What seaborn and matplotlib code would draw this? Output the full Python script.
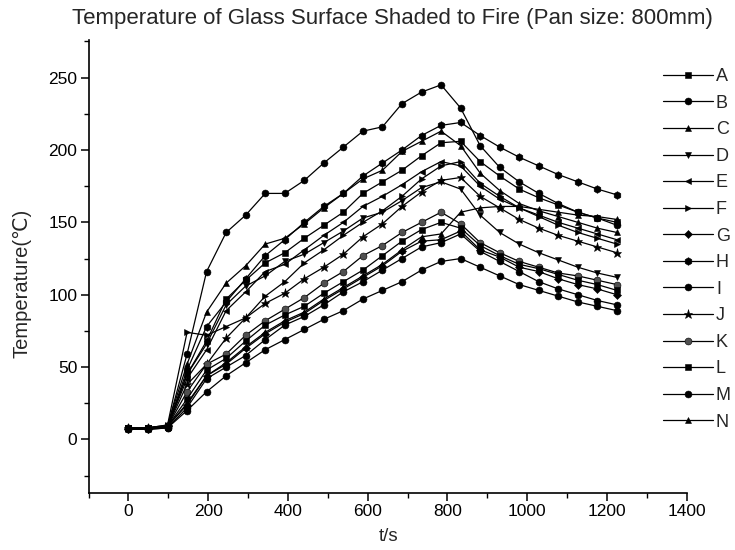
import matplotlib
matplotlib.use("Agg")
import matplotlib.pyplot as plt
from matplotlib.ticker import MultipleLocator
import pandas as pd
import seaborn as sns

# Sampling times (s)
times = [0, 49, 98, 147, 196, 245, 294, 343, 392, 441, 490, 539, 588,
         637, 686, 735, 784, 833, 882, 931, 980, 1029, 1078, 1127, 1176, 1225]

# Glass surface temperature (degC) at each measuring point
A = [8, 8, 9, 45, 68, 97, 110, 122, 129, 139, 148, 157, 170, 178, 186, 196, 205, 206, 192, 182, 173, 167, 162, 157, 153, 150]
B = [8, 8, 9, 59, 116, 143, 155, 170, 170, 179, 191, 202, 213, 216, 232, 240, 245, 229, 203, 188, 178, 170, 163, 157, 153, 148]
C = [8, 8, 10, 52, 88, 108, 120, 135, 139, 149, 160, 170, 180, 186, 199, 206, 213, 203, 184, 172, 163, 158, 154, 150, 146, 143]
D = [8, 8, 9, 45, 66, 93, 106, 113, 123, 128, 136, 144, 153, 157, 165, 174, 178, 173, 155, 143, 135, 129, 124, 119, 115, 112]
E = [8, 8, 9, 42, 62, 89, 102, 116, 121, 131, 141, 150, 161, 168, 176, 185, 192, 189, 175, 166, 160, 155, 150, 146, 142, 138]
F = [8, 8, 10, 74, 72, 78, 84, 99, 109, 122, 131, 141, 150, 158, 168, 180, 189, 192, 177, 168, 160, 154, 148, 143, 139, 135]
G = [7, 7, 9, 24, 44, 52, 63, 73, 81, 87, 96, 104, 112, 120, 130, 137, 138, 144, 131, 126, 119, 116, 111, 107, 104, 100]
H = [8, 8, 9, 48, 78, 95, 111, 127, 138, 150, 161, 170, 182, 191, 200, 210, 217, 219, 210, 202, 195, 189, 183, 178, 173, 169]
I = [7, 7, 8, 22, 42, 50, 58, 69, 79, 85, 93, 102, 109, 117, 125, 133, 136, 142, 130, 123, 116, 109, 104, 100, 96, 93]
J = [8, 8, 9, 38, 52, 70, 84, 94, 101, 111, 119, 128, 140, 149, 161, 171, 179, 181, 168, 160, 152, 146, 141, 137, 133, 129]
K = [8, 8, 9, 33, 52, 59, 72, 82, 90, 98, 108, 116, 127, 134, 143, 150, 157, 149, 136, 129, 123, 119, 115, 113, 110, 107]
L = [8, 8, 9, 28, 48, 56, 68, 79, 86, 92, 101, 109, 117, 127, 137, 145, 150, 146, 134, 127, 121, 118, 114, 110, 107, 103]
M = [7, 7, 8, 20, 33, 44, 53, 62, 69, 76, 83, 89, 97, 103, 109, 117, 123, 125, 119, 113, 107, 103, 99, 95, 92, 89]
N = [8, 8, 9, 25, 44, 53, 64, 74, 82, 88, 97, 105, 113, 121, 131, 140, 142, 157, 160, 161, 161, 159, 157, 155, 154, 152]

names = ["A", "B", "C", "D", "E", "F", "G", "H", "I", "J", "K", "L", "M", "N"]
series = [A, B, C, D, E, F, G, H, I, J, K, L, M, N]
markers = ["s", "o", "^", "v", "<", ">", "D", "h", "o", "*", "o", "s", "o", "^"]
sizes = [4.5, 5, 5, 5, 5, 5, 4, 5.5, 5, 6.5, 5, 4.5, 5, 5]
faces = ["black"] * 10 + ["#505050"] + ["black"] * 3

sns.set_theme(style="ticks")
plt.rcParams["font.family"] = ["Liberation Sans", "DejaVu Sans"]

fig = plt.figure(figsize=(7.35, 5.5), dpi=100)
ax = fig.add_axes([0.1205, 0.1036, 0.8138, 0.8237])

for name, vals, mk, ms, fc in zip(names, series, markers, sizes, faces):
    df = pd.DataFrame({"t": times, "T": vals})
    sns.lineplot(data=df, x="t", y="T", ax=ax, color="black", linewidth=0.9,
                 marker=mk, markersize=ms, markerfacecolor=fc,
                 markeredgecolor="black", markeredgewidth=0.4,
                 label=name, legend=False, errorbar=None)

ax.set_xlim(-100, 1400)
ax.set_ylim(-37, 276)
ax.xaxis.set_major_locator(MultipleLocator(200))
ax.xaxis.set_minor_locator(MultipleLocator(100))
ax.yaxis.set_major_locator(MultipleLocator(50))
ax.yaxis.set_minor_locator(MultipleLocator(25))
ax.set_xlabel("")
ax.set_ylabel("")
sns.despine(ax=ax)
for s in ("left", "bottom"):
    ax.spines[s].set_linewidth(1.2)
    ax.spines[s].set_color("black")
ax.tick_params(which="major", direction="out", length=6, width=1.1,
               labelsize=12.5, colors="black", pad=2)
ax.tick_params(which="minor", direction="out", length=3.5, width=1.0,
               colors="black")

fig.text(0.534, 0.967, "Temperature of Glass Surface Shaded to Fire (Pan size: 800mm)",
         ha="center", va="center", fontsize=16)
fig.text(0.528, 0.024, "t/s", ha="center", va="center", fontsize=13.5)
fig.text(0.030, 0.485, "Temperature(℃)", ha="center", va="center",
         rotation=90, fontsize=14.5)

handles, labels = ax.get_legend_handles_labels()
fig.legend(handles, labels, loc="upper left", bbox_to_anchor=(0.9016, 0.876),
           frameon=False, fontsize=13, handlelength=2.8, handletextpad=0.15,
           labelspacing=0.53, borderpad=0, borderaxespad=0, numpoints=1)

fig.savefig("out.png", dpi=100)
